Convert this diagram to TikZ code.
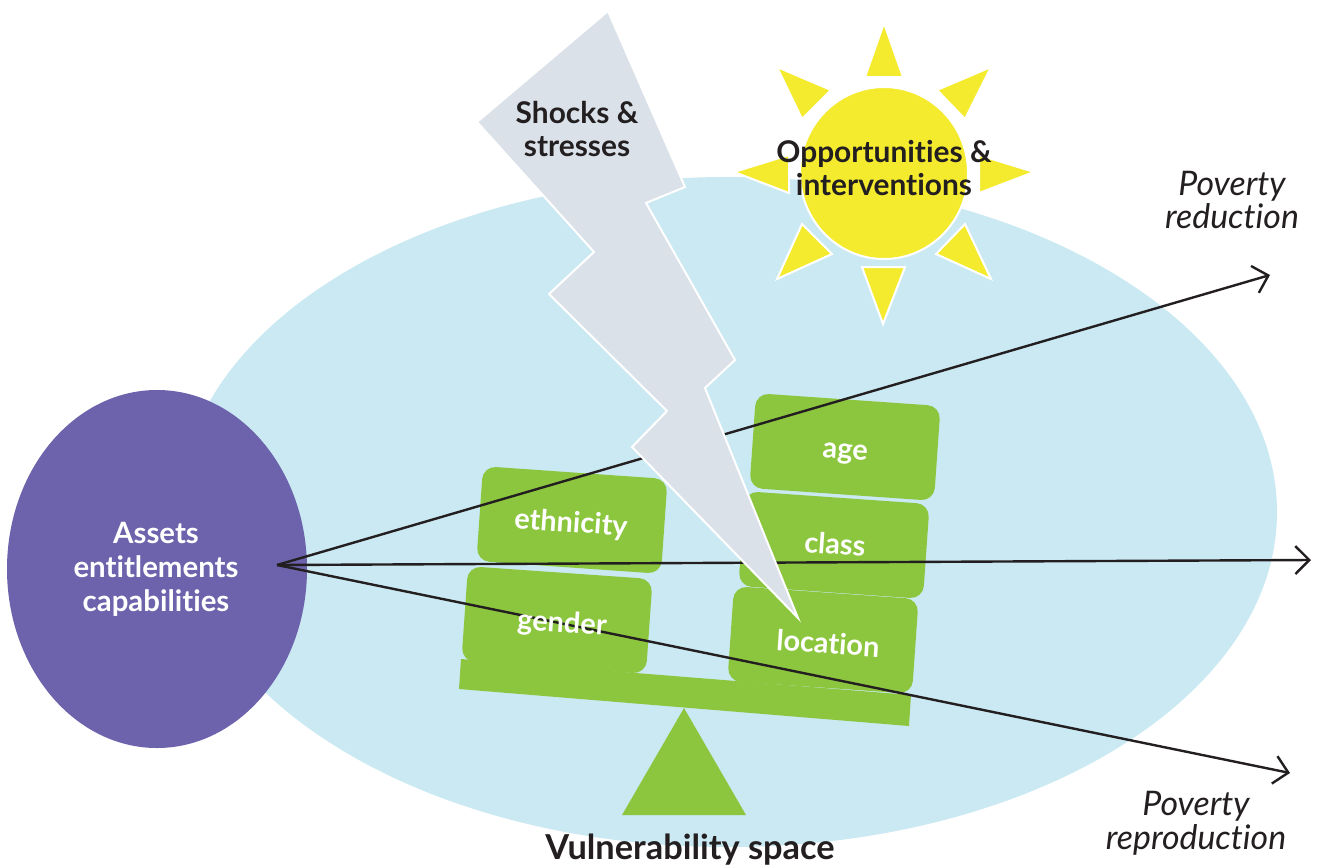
\documentclass[tikz,border=0pt]{standalone}
\usepackage{fontspec}
\setmainfont[Ligatures=NoCommon]{Lato}
\usetikzlibrary{arrows.meta,shapes.geometric}
\definecolor{skyc}{HTML}{CBE9F3}
\definecolor{purplec}{HTML}{6C63AC}
\definecolor{greenc}{HTML}{8CC63F}
\definecolor{yellowc}{HTML}{F4EB2E}
\definecolor{greyc}{HTML}{DAE1E8}
\definecolor{inkc}{HTML}{231F20}
\tikzset{
  x=1bp,y=-1bp,
  blockbox/.style={fill=greenc,rounded corners=13bp,minimum width=185bp,minimum height=95bp,rotate=-4,inner sep=0pt},
  blocktext/.style={text=white,font=\fontsize{29}{34}\selectfont\bfseries,rotate=-4,inner sep=0pt},
  heading/.style={text=inkc,font=\fontsize{30}{34}\selectfont\bfseries,align=center,inner sep=0pt},
  whitehead/.style={text=white,font=\fontsize{29.5}{34}\selectfont\bfseries,align=center,inner sep=0pt},
  outcome/.style={text=inkc,font=\fontsize{34}{34}\selectfont\itshape,align=center,inner sep=0pt},
  outarrow/.style={draw=inkc,line width=2.4bp,-{Straight Barb[length=14bp,width=28bp,line width=2.4bp]}},
  ray/.style={fill=yellowc,draw=white,line width=2bp,line join=miter},
}
\begin{document}
\begin{tikzpicture}
\useasboundingbox (0,0) rectangle (1317,865);
\fill[white] (0,0) rectangle (1317,865);
% space
\node[ellipse,fill=skyc,minimum width=1098bp,minimum height=670bp,inner sep=0pt] (space) at (728,512) {};
% sun
\node[ellipse,fill=yellowc,draw=white,line width=2bp,minimum width=168bp,minimum height=172bp,inner sep=0pt] (sun) at (884,173) {};
\fill[ray] (884,23)--(903,77)--(865,77)--cycle;
\fill[ray] (991,67)--(965,119)--(937,90)--cycle;
\fill[ray] (777,67)--(831,90)--(802,119)--cycle;
\fill[ray] (1034,172)--(979,193)--(979,155)--cycle;
\fill[ray] (734,172)--(789,155)--(789,193)--cycle;
\fill[ray] (777,279)--(802,224)--(832,254)--cycle;
\fill[ray] (991,279)--(965,224)--(936,254)--cycle;
\fill[ray] (862,267)--(905,267)--(883,324)--cycle;
% scale
\fill[greenc] (622,815)--(684,708)--(746,815)--cycle;
\fill[greenc] (461,659)--(911,695)--(909,726)--(459,689)--cycle;
\node[blockbox] (gender) at (557,620) {};
\node[blockbox] (ethnicity) at (572,520) {};
\node[blockbox] (location) at (823,640) {};
\node[blockbox] (class) at (834,545) {};
\node[blockbox] (age) at (845,447) {};
\node[blocktext] at (571,524) {ethnicity};
\node[blocktext] at (845,454) {age};
\node[blocktext] at (835,544) {class};
% arrows
\coordinate (origin) at (277,565);
\coordinate (reduction) at (1270,275);
\coordinate (straight) at (1311,560);
\coordinate (reproduction) at (1290,773);
\node[ellipse,fill=purplec,minimum width=300bp,minimum height=358bp,inner sep=0pt] (assets) at (157,569) {};
\draw[outarrow] (origin) -- (reduction);
\draw[outarrow] (origin) -- (straight);
\draw[outarrow] (origin) -- (reproduction);
% lightning
\filldraw[fill=greyc,draw=white,line width=2bp,line join=miter] (608,11)--(685,187)--(646,203)--(735,360)--(705,388)--(798,618)--(632,447)--(667,411)--(549,294)--(594,252)--(477,122)--cycle;
% texts
\node[blocktext] at (562,624) {gender};
\node[blocktext] at (828,643) {location};
\node[whitehead] at (156,569) {Assets\\entitlements\\capabilities};
\node[heading] at (577,129) {Shocks \&\\stresses};
\node[heading] at (884,168) {Opportunities \&\\interventions};
\node[heading,font=\fontsize{34.5}{36}\selectfont\bfseries] at (690,850) {Vulnerability space};
\node[outcome] at (1232,200) {Poverty\\reduction};
\node[outcome] at (1196,823) {Poverty\\reproduction};
\end{tikzpicture}
\end{document}
